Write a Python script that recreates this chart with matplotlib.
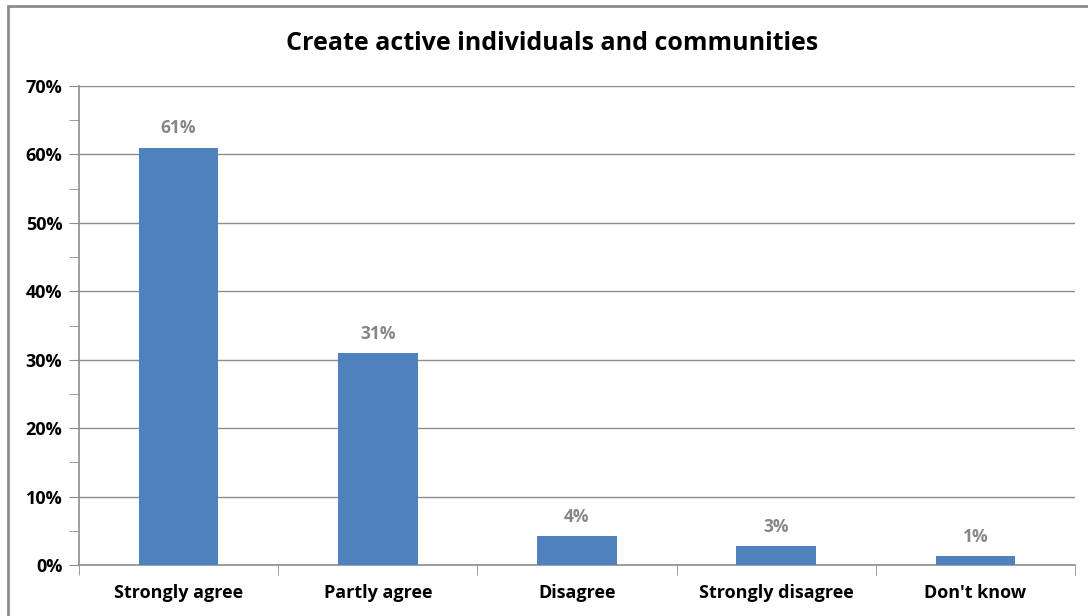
import matplotlib.pyplot as plt
from matplotlib.patches import Rectangle
from matplotlib.ticker import MultipleLocator, FuncFormatter, FixedLocator

# Dados do grafico
categories = ["Strongly agree", "Partly agree", "Disagree", "Strongly disagree", "Don't know"]
values = [61.0, 31.0, 4.2, 2.8, 1.3]
title = "Create active individuals and communities"

plt.rcParams["font.family"] = ["Open Sans", "DejaVu Sans"]

fig = plt.figure(figsize=(10.88, 6.16), dpi=100)
ax = fig.add_axes([79 / 1088, 1 - 565 / 616, (1075 - 79) / 1088, (565 - 86) / 616])

# Moldura do grafico (estilo Excel)
fig.patches.append(Rectangle((8 / 1088, -0.1), 1.2, 1.1 - 6 / 616, transform=fig.transFigure,
                             fill=False, edgecolor="#8c8c8c", linewidth=2))

x = range(len(categories))
ax.bar(x, values, width=0.4, color="#4f81bd", zorder=3)

for xi, v in zip(x, values):
    ax.text(xi, v + 1.5, f"{round(v)}%", ha="center", va="bottom",
            fontsize=12.5, fontweight="bold", color="#868686")

ax.set_xlim(-0.5, len(categories) - 0.5)
ax.set_ylim(0, 70)
ax.yaxis.set_major_locator(MultipleLocator(10))
ax.yaxis.set_minor_locator(MultipleLocator(5))
ax.yaxis.set_major_formatter(FuncFormatter(lambda v, p: f"{int(v)}%"))
ax.grid(axis="y", color="#8c8c8c", linewidth=1, zorder=0)

ax.set_xticks(list(x))
ax.set_xticklabels(categories)
ax.xaxis.set_minor_locator(FixedLocator([i - 0.5 for i in range(len(categories) + 1)]))
ax.tick_params(axis="x", which="major", length=0, pad=14)
ax.tick_params(axis="x", which="minor", length=7, color="#8c8c8c", direction="out")
ax.tick_params(axis="y", which="both", length=7, color="#8c8c8c", direction="out", pad=5)
ax.tick_params(labelsize=13)
for lbl in ax.get_xticklabels() + ax.get_yticklabels():
    lbl.set_fontweight("bold")

for side in ["top", "right"]:
    ax.spines[side].set_visible(False)
for side in ["left", "bottom"]:
    ax.spines[side].set_color("#8c8c8c")
    ax.spines[side].set_linewidth(1.2)

fig.text(552 / 1088, 1 - 43 / 616, title, ha="center", va="center", fontsize=18, fontweight="bold")

fig.savefig("out.png", dpi=100)
